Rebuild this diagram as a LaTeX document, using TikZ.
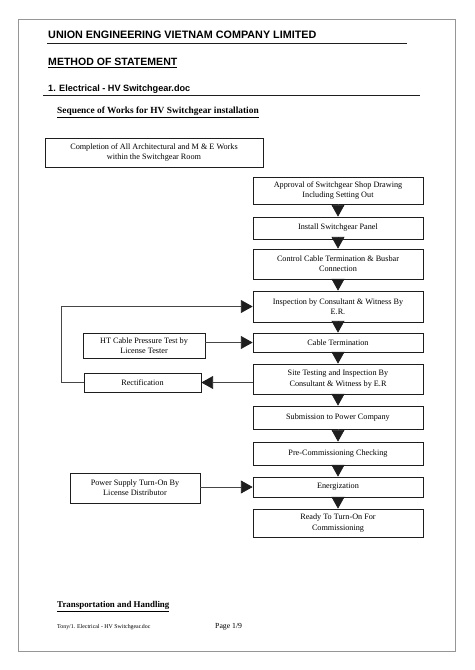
\documentclass[tikz,border=0pt]{standalone}
\usepackage{fontspec}
\setmainfont{Liberation Serif}
\newfontfamily\headfont{Liberation Sans}
\usetikzlibrary{arrows.meta,positioning}
\definecolor{ink}{RGB}{30,30,30}
\definecolor{wire}{RGB}{70,70,70}
\definecolor{frame}{RGB}{150,150,150}
\tikzset{
  >={Triangle[length=10pt,width=11pt,color=ink]},
  stage/.style={draw=ink,line width=0.6pt,minimum width=5.1cm,minimum height=#1,
    inner sep=0pt,align=center,font=\fontsize{7}{8.6}\selectfont},
  stage/.default=0.66cm,
  flow/.style={->,line width=0.6pt,draw=wire},
  head/.style={anchor=west,inner sep=0pt,font=\headfont\bfseries\fontsize{#1}{#1}\selectfont},
  head/.default=9pt,
  title/.style={anchor=west,inner sep=0pt,font=\bfseries\fontsize{#1}{#1}\selectfont},
  title/.default=8pt,
  foot/.style={anchor=west,inner sep=0pt,font=\fontsize{#1}{#1}\selectfont},
}
\begin{document}
\begin{tikzpicture}[x=0.03cm,y=-0.03cm]
  \useasboundingbox (0,0) rectangle (474,670);
  \draw[frame,line width=0.8pt] (18,19) rectangle (455,651);
  % page heading
  \node[head=9.2pt] (firm) at (48,35) {UNION ENGINEERING VIETNAM COMPANY LIMITED};
  \draw[ink,line width=0.6pt] (47,43) -- (407,43);
  \node[head=9pt] (mos) at (48,63) {\underline{METHOD OF STATEMENT}};
  \node[head=7.8pt] (sect) at (48,89) {1. Electrical - HV Switchgear.doc};
  \draw[ink,line width=0.6pt] (43,95) -- (420,95);
  \node[title] (seq) at (57,112) {\underline{Sequence of Works for HV Switchgear installation}};
  % main sequence
  \node[stage=0.87cm,minimum width=6.54cm] (compl) at (154,152.5)
    {Completion of All Architectural and M \& E Works\\within the Switchgear Room};
  \foreach \n/\y/\h/\t in {
      appr/190.5/0.81cm/{Approval of Switchgear Shop Drawing\\Including Setting Out},
      inst/228/0.66cm/{Install Switchgear Panel},
      ctrl/264/0.9cm/{Control Cable Termination \& Busbar\\Connection},
      insp/306.5/0.93cm/{Inspection by Consultant \& Witness By\\E.R.},
      term/342.5/0.57cm/{Cable Termination},
      site/379/0.9cm/{Site Testing and Inspection By\\Consultant \& Witness by E.R},
      subm/417.5/0.69cm/{Submission to Power Company},
      prec/453.5/0.69cm/{Pre-Commissioning Checking},
      ener/487/0.6cm/{Energization},
      ready/523/0.84cm/{Ready To Turn-On For\\Commissioning}}
    \node[stage=\h] (\n) at (338,\y) {\t};
  \foreach \a/\b in {appr/inst,inst/ctrl,ctrl/insp,insp/term,term/site,
      site/subm,subm/prec,prec/ener,ener/ready}
    \draw[flow] (\a) -- (\b);
  % side inputs
  \node[stage=0.75cm,minimum width=3.66cm] (ht) at (144,345.5) {HT Cable Pressure Test by\\License Tester};
  \node[stage=0.57cm,minimum width=3.51cm] (rect) at (142.5,382.5) {Rectification};
  \node[stage=0.9cm,minimum width=3.9cm] (power) at (135,488) {Power Supply Turn-On By\\License Distributor};
  \draw[flow] (ht.east |- term.west) -- (term.west);
  \draw[flow] (site.west |- rect.east) -- (rect.east);
  \draw[flow] (rect.west) -- ++(-22,0) |- (insp.west);
  \draw[flow] (power.east |- ener.west) -- (ener.west);
  % next section and footer
  \node[title=7.6pt] (trans) at (57,607) {\underline{Transportation and Handling}};
  \node[foot=5pt] (file) at (57,627) {Tony/1. Electrical - HV Switchgear.doc};
  \node[foot=6.6pt] (page) at (215,627) {Page 1/9};
\end{tikzpicture}
\end{document}
